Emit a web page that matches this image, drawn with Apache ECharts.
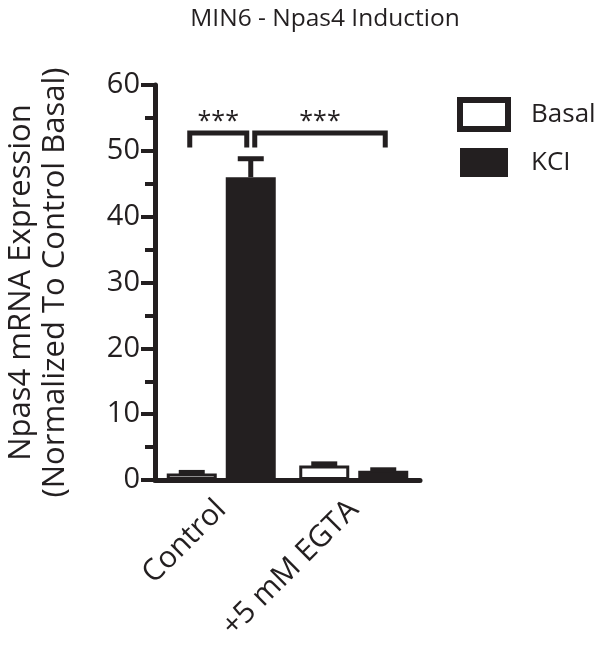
<!DOCTYPE html>
<html>
<head>
<meta charset="utf-8">
<script src="https://cdn.jsdelivr.net/npm/echarts@6/dist/echarts.min.js"></script>
<style>html,body{margin:0;padding:0;background:#fff;}#c{width:600px;height:654px;}</style>
</head>
<body>
<div id="c"></div>
<script>
var categories = ['Control', '+5 mM EGTA'];
var seriesNames = ['Basal', 'KCl'];
var basalMean = [1.0, 2.2];
var basalErr = [0.15, 0.25];
var kclMean = [46.0, 1.4];
var kclErr = [2.8, 0.15];
var yTicks = [0, 10, 20, 30, 40, 50, 60];
// brackets: [fromCategory, fromSeries, toCategory, toSeries, height, legBottom, label]
var brackets = [
  [0, 0, 0, 1, 52.7, 50.5, '***'],
  [0, 1, 1, 1, 52.7, 50.5, '***']
];

var FONT = 'Open Sans';
var BAR_W = 50;
var BAR_GAP = 0.18;
var OFF = (BAR_W + BAR_W * BAR_GAP) / 2;

var errData = [];
for (var i = 0; i < categories.length; i++) {
  errData.push([i, 0, basalMean[i], basalErr[i]]);
  errData.push([i, 1, kclMean[i], kclErr[i]]);
}

var chart = echarts.init(document.getElementById('c'));
chart.setOption({
  animation: false,
  backgroundColor: '#fff',
  title: {
    text: 'MIN6 - Npas4 Induction',
    left: 320, top: 2, textAlign: 'center',
    textStyle: { fontFamily: FONT, fontSize: 24.5, fontWeight: 'normal', color: '#231f20' }
  },
  legend: {
    left: 457, top: 97, orient: 'vertical', padding: 0,
    itemWidth: 48, itemHeight: 29, itemGap: 16,
    textStyle: { fontFamily: FONT, fontSize: 26, color: '#231f20', padding: [0, 0, 0, 18] },
    data: [
      { name: 'Basal', icon: 'rect', itemStyle: { color: '#fff', borderColor: '#231f20', borderWidth: 6 } },
      { name: 'KCl', icon: 'rect', itemStyle: { color: '#231f20', borderColor: '#231f20', borderWidth: 0 } }
    ],
    formatter: function (n) { return n === 'KCl' ? 'KCI' : n; }
  },
  grid: { left: 155, right: 180, top: 85, bottom: 174, containLabel: false },
  xAxis: {
    type: 'category', data: categories, z: 5,
    axisLine: { lineStyle: { color: '#231f20', width: 5 } },
    axisTick: { alignWithLabel: true, length: 13, lineStyle: { color: '#231f20', width: 4 } },
    axisLabel: { rotate: 45, margin: 25, fontFamily: FONT, fontSize: 30, color: '#231f20' }
  },
  yAxis: {
    type: 'value', min: 0, max: 60, interval: 10, z: 5,
    name: 'Npas4 mRNA Expression\n(Normalized To Control Basal)',
    nameLocation: 'middle', nameRotate: 90, nameGap: 83,
    nameTextStyle: { fontFamily: FONT, fontSize: 31, color: '#231f20', lineHeight: 34 },
    axisLine: { show: true, lineStyle: { color: '#231f20', width: 5 } },
    axisTick: { show: true, length: 14, lineStyle: { color: '#231f20', width: 4 } },
    minorTick: { show: true, splitNumber: 2, length: 10, lineStyle: { color: '#231f20', width: 4 } },
    splitLine: { show: false },
    axisLabel: {
      margin: 15, fontFamily: FONT, fontSize: 29, color: '#231f20',
      formatter: function (v) { return yTicks.indexOf(v) >= 0 ? String(v) : ''; }
    }
  },
  series: [
    {
      name: 'Basal', type: 'bar', data: basalMean, barWidth: BAR_W, barGap: (BAR_GAP * 100) + '%',
      itemStyle: { color: '#fff', borderColor: '#231f20', borderWidth: 3 }
    },
    {
      name: 'KCl', type: 'bar', data: kclMean, barWidth: BAR_W,
      itemStyle: { color: '#231f20', borderColor: '#231f20', borderWidth: 0 }
    },
    {
      type: 'custom', data: errData, z: 4, silent: true,
      renderItem: function (params, api) {
        var c = api.value(0), s = api.value(1), m = api.value(2), e = api.value(3);
        var p0 = api.coord([c, m]);
        var p1 = api.coord([c, m + e]);
        var x = p0[0] + (s === 0 ? -OFF : OFF);
        var style = { stroke: '#231f20', lineWidth: 5, fill: null };
        return {
          type: 'group', children: [
            { type: 'line', shape: { x1: x, y1: p0[1], x2: x, y2: p1[1] }, style: style },
            { type: 'line', shape: { x1: x - 13, y1: p1[1], x2: x + 13, y2: p1[1] }, style: style }
          ]
        };
      }
    },
    {
      type: 'custom', data: brackets, z: 4, silent: true,
      renderItem: function (params, api) {
        var b = brackets[params.dataIndex];
        var pa = api.coord([b[0], b[4]]);
        var pb = api.coord([b[2], b[4]]);
        var pl = api.coord([b[0], b[5]]);
        var xa = pa[0] + (b[1] === 0 ? -OFF : OFF);
        var xb = pb[0] + (b[3] === 0 ? -OFF : OFF);
        // leave a small gap where two brackets share a bar
        if (params.dataIndex === 0) { xa -= 2; xb -= 4; } else { xa += 4; xb += 2; }
        var y = pa[1], yl = pl[1];
        var style = { stroke: '#231f20', lineWidth: 5, fill: null, lineJoin: 'miter' };
        return {
          type: 'group', children: [
            { type: 'polyline', shape: { points: [[xa, yl], [xa, y], [xb, y], [xb, yl]] }, style: style },
            { type: 'text', style: { text: b[6], x: (xa + xb) / 2, y: y + 1, align: 'center', verticalAlign: 'bottom',
              font: '25px "' + FONT + '"', fill: '#231f20' } }
          ]
        };
      }
    }
  ]
});
</script>
</body>
</html>
